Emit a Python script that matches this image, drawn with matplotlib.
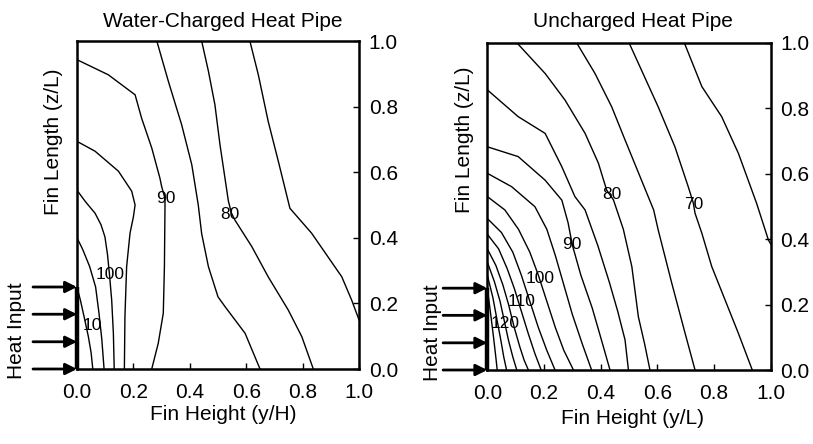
import matplotlib
matplotlib.use("Agg")
import matplotlib.pyplot as plt

plt.rcParams['font.family'] = ['Liberation Sans', 'DejaVu Sans']

# ---------------- data: Water-Charged Heat Pipe (contours) ----------------
wc_x_110 = [0.0, 0.012, 0.025, 0.04, 0.05, 0.056]
wc_y_110 = [0.25, 0.21, 0.16, 0.10, 0.05, 0.0]
wc_x_105 = [0.0, 0.02, 0.045, 0.066, 0.078, 0.088, 0.096]
wc_y_105 = [0.40, 0.365, 0.312, 0.25, 0.17, 0.09, 0.0]
wc_x_100 = [0.0, 0.03, 0.064, 0.085, 0.099, 0.108, 0.115, 0.123, 0.129, 0.132]
wc_y_100 = [0.545, 0.51, 0.475, 0.44, 0.403, 0.35, 0.29, 0.21, 0.109, 0.0]
wc_x_95 = [0.0, 0.064, 0.147, 0.194, 0.206, 0.20, 0.188, 0.176, 0.17, 0.168]
wc_y_95 = [0.694, 0.664, 0.603, 0.542, 0.50, 0.464, 0.414, 0.312, 0.16, 0.0]
wc_x_90 = [0.0, 0.111, 0.206, 0.229, 0.265, 0.294, 0.30, 0.312, 0.312, 0.31, 0.306, 0.288, 0.265]
wc_y_90 = [0.943, 0.897, 0.836, 0.765, 0.674, 0.582, 0.557, 0.52, 0.495, 0.312, 0.17, 0.078, 0.0]
wc_x_85 = [0.283, 0.324, 0.371, 0.407, 0.43, 0.442, 0.466, 0.50, 0.525, 0.596, 0.649]
wc_y_85 = [1.0, 0.877, 0.745, 0.623, 0.50, 0.413, 0.312, 0.22, 0.19, 0.109, 0.0]
wc_x_80 = [0.442, 0.466, 0.489, 0.507, 0.537, 0.548, 0.560, 0.62, 0.678, 0.749, 0.797, 0.838]
wc_y_80 = [1.0, 0.908, 0.806, 0.684, 0.511, 0.475, 0.454, 0.373, 0.281, 0.18, 0.099, 0.0]
wc_x_75 = [0.613, 0.643, 0.678, 0.714, 0.749, 0.755, 0.832, 0.939, 0.974, 1.0]
wc_y_75 = [1.0, 0.897, 0.755, 0.633, 0.511, 0.49, 0.414, 0.281, 0.21, 0.15]

wc_label_text = ["10", "100", "90", "80"]
wc_label_x = [0.055, 0.117, 0.315, 0.543]
wc_label_y = [0.134, 0.287, 0.52, 0.472]

# ---------------- data: Uncharged Heat Pipe (contours) ----------------
uc_x_130 = [0.0, 0.012, 0.022, 0.03, 0.035]
uc_y_130 = [0.25, 0.17, 0.10, 0.04, 0.0]
uc_x_125 = [0.0, 0.02, 0.035, 0.048, 0.058, 0.068]
uc_y_125 = [0.29, 0.22, 0.15, 0.09, 0.04, 0.0]
uc_x_120 = [0.0, 0.025, 0.045, 0.06, 0.075, 0.09, 0.104]
uc_y_120 = [0.33, 0.27, 0.21, 0.15, 0.09, 0.04, 0.0]
uc_x_115 = [0.0, 0.03, 0.055, 0.075, 0.095, 0.115, 0.13, 0.145]
uc_y_115 = [0.37, 0.32, 0.26, 0.20, 0.13, 0.07, 0.03, 0.0]
uc_x_110 = [0.0, 0.04, 0.07, 0.095, 0.12, 0.145, 0.168, 0.19]
uc_y_110 = [0.415, 0.37, 0.31, 0.25, 0.18, 0.11, 0.05, 0.0]
uc_x_105 = [0.0, 0.05, 0.09, 0.12, 0.15, 0.18, 0.21, 0.239]
uc_y_105 = [0.463, 0.42, 0.36, 0.29, 0.21, 0.13, 0.06, 0.0]
uc_x_100 = [0.0, 0.062, 0.11, 0.15, 0.18, 0.21, 0.24, 0.27, 0.304]
uc_y_100 = [0.53, 0.489, 0.43, 0.36, 0.29, 0.21, 0.13, 0.06, 0.0]
uc_x_95 = [0.0, 0.086, 0.168, 0.21, 0.24, 0.27, 0.30, 0.335, 0.368]
uc_y_95 = [0.601, 0.56, 0.499, 0.43, 0.35, 0.26, 0.17, 0.08, 0.0]
uc_x_90 = [0.0, 0.109, 0.204, 0.263, 0.285, 0.30, 0.33, 0.37, 0.40, 0.433]
uc_y_90 = [0.682, 0.652, 0.58, 0.519, 0.45, 0.382, 0.29, 0.19, 0.10, 0.0]
uc_x_85 = [0.0, 0.109, 0.204, 0.263, 0.309, 0.345, 0.39, 0.43, 0.46, 0.486, 0.498]
uc_y_85 = [0.856, 0.774, 0.723, 0.621, 0.53, 0.489, 0.38, 0.27, 0.18, 0.092, 0.0]
uc_x_80 = [0.104, 0.204, 0.274, 0.345, 0.392, 0.421, 0.445, 0.48, 0.51, 0.533, 0.555, 0.574]
uc_y_80 = [1.0, 0.906, 0.825, 0.723, 0.632, 0.55, 0.52, 0.43, 0.316, 0.163, 0.08, 0.0]
uc_x_75 = [0.315, 0.38, 0.439, 0.486, 0.587, 0.603, 0.651, 0.698, 0.733]
uc_y_75 = [1.0, 0.906, 0.804, 0.703, 0.489, 0.428, 0.265, 0.112, 0.0]
uc_x_70 = [0.50, 0.603, 0.662, 0.709, 0.727, 0.733, 0.757, 0.792, 0.839, 0.886, 0.935]
uc_y_70 = [1.0, 0.804, 0.682, 0.56, 0.51, 0.479, 0.418, 0.316, 0.214, 0.112, 0.0]
uc_x_65 = [0.695, 0.757, 0.827, 0.886, 0.95, 0.992, 1.0]
uc_y_65 = [1.0, 0.866, 0.774, 0.662, 0.51, 0.397, 0.385]

uc_label_text = ["120", "110", "100", "90", "80", "70"]
uc_label_x = [0.062, 0.121, 0.186, 0.298, 0.44, 0.727]
uc_label_y = [0.143, 0.209, 0.28, 0.382, 0.535, 0.505]

# shared
heat_input_y = [0.0, 0.083, 0.167, 0.25]
tick_vals = [0.0, 0.2, 0.4, 0.6, 0.8, 1.0]
tick_labels = ["0.0", "0.2", "0.4", "0.6", "0.8", "1.0"]

wc_lines = [(wc_x_110, wc_y_110), (wc_x_105, wc_y_105), (wc_x_100, wc_y_100),
            (wc_x_95, wc_y_95), (wc_x_90, wc_y_90), (wc_x_85, wc_y_85),
            (wc_x_80, wc_y_80), (wc_x_75, wc_y_75)]
uc_lines = [(uc_x_130, uc_y_130), (uc_x_125, uc_y_125), (uc_x_120, uc_y_120),
            (uc_x_115, uc_y_115), (uc_x_110, uc_y_110), (uc_x_105, uc_y_105),
            (uc_x_100, uc_y_100), (uc_x_95, uc_y_95), (uc_x_90, uc_y_90),
            (uc_x_85, uc_y_85), (uc_x_80, uc_y_80), (uc_x_75, uc_y_75),
            (uc_x_70, uc_y_70), (uc_x_65, uc_y_65)]

FS = 15
fig = plt.figure(figsize=(8.13, 4.44), dpi=100)
ax1 = fig.add_axes([77 / 813, (444 - 369) / 444, 282 / 813, 328 / 444])
ax2 = fig.add_axes([487.3 / 813, (444 - 370) / 444, 283.4 / 813, 327.3 / 444])


def style(ax, lines, lab_t, lab_x, lab_y, title, tpos, xlabel, xlpos, ylpos, hipos):
    for xs, ys in lines:
        ax.plot(xs, ys, color='black', lw=1.0, solid_joinstyle='miter')
    for t, x, y in zip(lab_t, lab_x, lab_y):
        ax.text(x, y, t, fontsize=12.5, ha='center', va='center', color='black')
    ax.set_xlim(0, 1)
    ax.set_ylim(0, 1)
    ax.set_xticks(tick_vals)
    ax.set_xticklabels(tick_labels)
    ax.set_yticks(tick_vals)
    ax.set_yticklabels(tick_labels)
    ax.yaxis.tick_right()
    ax.tick_params(axis='x', direction='in', length=4, width=1, pad=10, labelsize=FS)
    ax.tick_params(axis='y', direction='in', length=4, width=1, pad=7, labelsize=FS)
    for sp in ax.spines.values():
        sp.set_linewidth(1.8)
    ax.set_title(title, fontsize=FS, x=tpos[0], y=tpos[1], pad=0, va='center')
    ax.set_xlabel(xlabel, fontsize=FS)
    ax.xaxis.set_label_coords(*xlpos)
    ax.xaxis.label.set_va('center')
    ax.set_ylabel('Fin Length (z/L)', fontsize=FS)
    ax.yaxis.set_label_position('left')
    ax.yaxis.set_label_coords(*ylpos)
    ax.yaxis.label.set_va('center')
    # heat input region: thick left spine and arrows
    ax.plot([0, 0], [heat_input_y[0], heat_input_y[-1]], color='black', lw=3.2,
            clip_on=False, solid_capstyle='butt')
    for hy in heat_input_y:
        ax.annotate('', xy=(0.0, hy), xytext=(-0.156, hy), xycoords='data',
                    annotation_clip=False,
                    arrowprops=dict(arrowstyle='-|>', lw=2.0, color='black',
                                    mutation_scale=17, shrinkA=0, shrinkB=0))
    ax.text(hipos[0], hipos[1], 'Heat Input', transform=ax.transAxes, rotation=90,
            ha='center', va='center', fontsize=FS)


style(ax1, wc_lines, wc_label_text, wc_label_x, wc_label_y,
      'Water-Charged Heat Pipe', (0.518, 1.058), 'Fin Height (y/H)',
      (0.518, -0.14), (-0.085, 0.692), (-0.213, 0.116))
style(ax2, uc_lines, uc_label_text, uc_label_x, uc_label_y,
      'Uncharged Heat Pipe', (0.514, 1.064), 'Fin Height (y/L)',
      (0.514, -0.147), (-0.079, 0.703), (-0.192, 0.113))

fig.savefig('out.png', dpi=100)
